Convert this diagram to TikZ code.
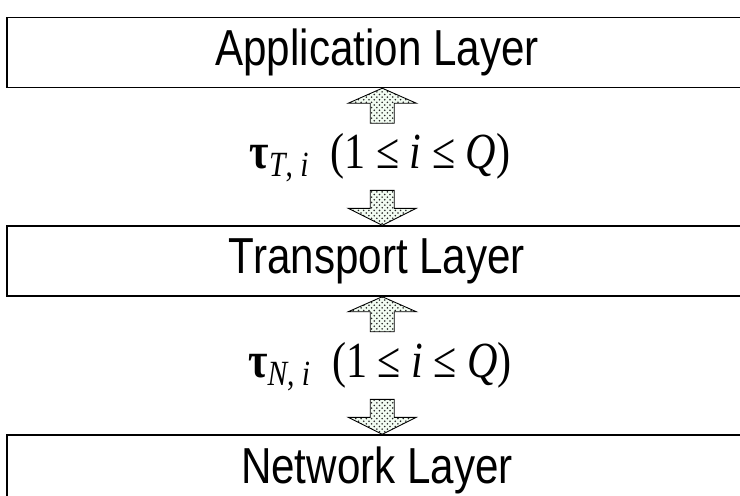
\documentclass[tikz,border=0pt]{standalone}
\usepackage{fontspec}
\setmainfont{Liberation Serif}
\setsansfont{Liberation Sans}
\usetikzlibrary{patterns}

\newcommand{\tall}[1]{\scalebox{1}[1.2]{#1}}

\tikzset{
  layer/.style={draw, line width=0.8pt, minimum width=14.8cm, minimum height=1.4cm,
    inner sep=0pt, font=\sffamily\fontsize{24}{28}\selectfont},
  rate/.style={font=\fontsize{24}{28}\selectfont},
  blockarr/.style={draw, line width=0.5pt, preaction={fill=black!22!green!5!white},
    pattern=crosshatch dots, pattern color=black!85}
}

\begin{document}
\begin{tikzpicture}[x=0.02cm, y=-0.02cm]
\useasboundingbox (0,0) rectangle (740,495);

% the three layers
\node[layer] (app)   at (377,52.5) {\tall{Application Layer}};
\node[layer] (trans) at (377,261)  {\tall{Transport Layer}};
\node[layer] (net)   at (377,470)  {\tall{Network Layer}};

% timers between the layers
\node[rate] (tauT) at (380,158) {\tall{\textbf{τ}\textsubscript{\textit{T}, \textit{i}}~~(1 ≤ \textit{i} ≤ \textit{Q})}};
\node[rate] (tauN) at (380,367) {\tall{\textbf{τ}\textsubscript{\textit{N}, \textit{i}}~~(1 ≤ \textit{i} ≤ \textit{Q})}};

% block arrows
\draw[blockarr] ([xshift=3]app.south) -- ++(34,15) -- ++(-22,0) -- ++(0,20) -- ++(-24,0)
   -- ++(0,-20) -- ++(-22,0) -- cycle;
\draw[blockarr] ([xshift=3]trans.north) -- ++(34,-17) -- ++(-22,0) -- ++(0,-18) -- ++(-24,0)
   -- ++(0,18) -- ++(-22,0) -- cycle;
\draw[blockarr] ([xshift=3]trans.south) -- ++(34,15) -- ++(-22,0) -- ++(0,20) -- ++(-24,0)
   -- ++(0,-20) -- ++(-22,0) -- cycle;
\draw[blockarr] ([xshift=3]net.north) -- ++(34,-17) -- ++(-22,0) -- ++(0,-18) -- ++(-24,0)
   -- ++(0,18) -- ++(-22,0) -- cycle;
\end{tikzpicture}
\end{document}
